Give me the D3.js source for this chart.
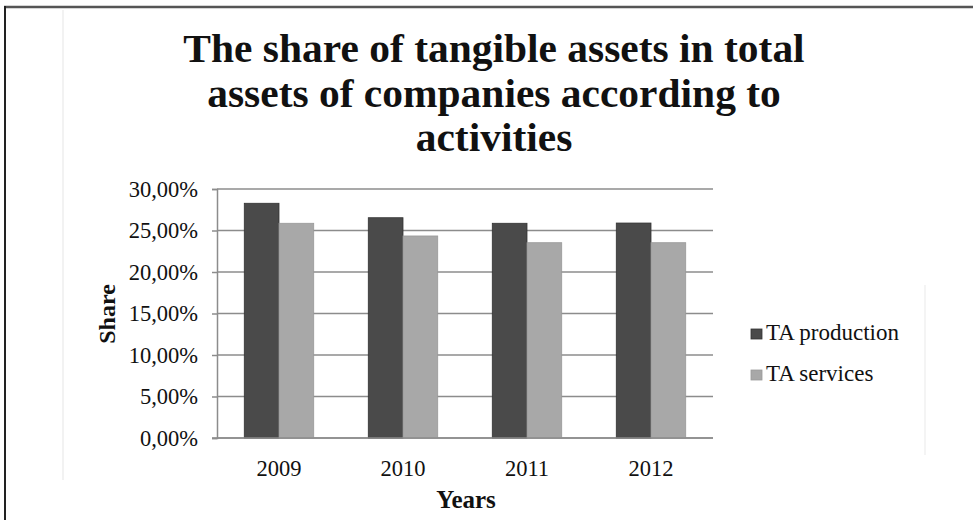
<!DOCTYPE html>
<html>
<head>
<meta charset="utf-8">
<script src="https://cdn.jsdelivr.net/npm/d3@7"></script>
<style>
  html, body { margin: 0; padding: 0; background: #fff; }
  svg { display: block; }
  text { font-family: "Liberation Serif", "Times New Roman", serif; fill: #111; }
</style>
</head>
<body>
<svg id="chart" width="973" height="520"></svg>
<script>
// ---- data ----
const years = ["2009", "2010", "2011", "2012"];
const seriesNames = ["TA production", "TA services"];
const taProduction = [0.2828, 0.2654, 0.2587, 0.2590];
const taServices = [0.2587, 0.2434, 0.2353, 0.2353];
const yTicks = [0, 0.05, 0.10, 0.15, 0.20, 0.25, 0.30];
const titleLines = ["The share of tangible assets in total", "assets of companies according to", "activities"];
const colors = ["#4a4a4a", "#a8a8a8"];

const svg = d3.select("#chart");

// frame
svg.append("rect").attr("x", 0).attr("y", 0).attr("width", 973).attr("height", 520).attr("fill", "#fff");
svg.append("line").attr("x1", 4).attr("x2", 973).attr("y1", 7).attr("y2", 7)
  .attr("stroke", "#555").attr("stroke-width", 2.5);
svg.append("line").attr("x1", 5).attr("x2", 5).attr("y1", 6).attr("y2", 520)
  .attr("stroke", "#222").attr("stroke-width", 2);
// faint chart-area edges
svg.append("line").attr("x1", 63).attr("x2", 63).attr("y1", 10).attr("y2", 480)
  .attr("stroke", "#eeeeee").attr("stroke-width", 1.5);
svg.append("line").attr("x1", 925).attr("x2", 925).attr("y1", 285).attr("y2", 455)
  .attr("stroke", "#f0f0f0").attr("stroke-width", 1.5);

// title
const titleBase = [62, 107, 151];
titleLines.forEach((t, i) => {
  svg.append("text")
    .attr("transform", `translate(494,${titleBase[i]}) scale(1.037,1)`)
    .attr("text-anchor", "middle")
    .attr("font-size", 40)
    .attr("font-weight", "bold")
    .text(t);
});

// scales
const plot = { left: 217, right: 713, top: 189, bottom: 438 };
const x0 = d3.scaleBand().domain(years).range([plot.left, plot.right])
  .paddingInner(0.44).paddingOuter(0.22);
const x1 = d3.scaleBand().domain(seriesNames).range([0, x0.bandwidth()]);
const y = d3.scaleLinear().domain([0, 0.30]).range([plot.bottom, plot.top]);

const locale = d3.formatLocale({ decimal: ",", thousands: ".", grouping: [3], currency: ["", ""] });
const fmt = locale.format(".2%");

// gridlines
svg.append("g").selectAll("line").data(yTicks).join("line")
  .attr("x1", plot.left).attr("x2", plot.right)
  .attr("y1", d => y(d)).attr("y2", d => y(d))
  .attr("stroke", "#8c8c8c").attr("stroke-width", 1.5);

// y axis
const yAxis = svg.append("g").attr("transform", `translate(${plot.left},0)`)
  .call(d3.axisLeft(y).tickValues(yTicks).tickFormat(fmt).tickSize(5).tickPadding(14));
yAxis.select(".domain").attr("stroke", "#8c8c8c").attr("stroke-width", 1.5);
yAxis.selectAll(".tick line").attr("stroke", "#8c8c8c").attr("stroke-width", 1.5);
yAxis.selectAll(".tick text").attr("font-size", 22.5)
  .attr("font-family", "'Liberation Serif', 'Times New Roman', serif").attr("fill", "#111");

// bars
const rows = years.map((yr, i) => ({ year: yr, values: [taProduction[i], taServices[i]] }));
svg.append("g").selectAll("g").data(rows).join("g")
  .attr("transform", d => `translate(${x0(d.year)},0)`)
  .selectAll("rect").data(d => d.values.map((v, j) => ({ key: seriesNames[j], v, j })))
  .join("rect")
  .attr("x", d => x1(d.key))
  .attr("y", d => y(d.v))
  .attr("width", x1.bandwidth())
  .attr("height", d => y(0) - y(d.v))
  .attr("fill", d => colors[d.j])
  .attr("stroke", d => d.j === 0 ? "#333" : "#999")
  .attr("stroke-width", 0.8);

// x axis
const xAxis = svg.append("g").attr("transform", `translate(0,${plot.bottom})`)
  .call(d3.axisBottom(x0).tickSize(0).tickPadding(22));
xAxis.select(".domain").attr("stroke", "#8c8c8c").attr("stroke-width", 1.5)
  .attr("d", `M${plot.left - 5},0H${plot.right}`);
xAxis.selectAll(".tick text").attr("font-size", 22.5)
  .attr("font-family", "'Liberation Serif', 'Times New Roman', serif").attr("fill", "#111");

// axis titles
svg.append("text")
  .attr("transform", "translate(115,314) rotate(-90)")
  .attr("text-anchor", "middle")
  .attr("font-size", 24).attr("font-weight", "bold")
  .text("Share");
svg.append("text")
  .attr("x", 466).attr("y", 508)
  .attr("text-anchor", "middle")
  .attr("font-size", 25).attr("font-weight", "bold")
  .text("Years");

// legend
const legend = svg.append("g").selectAll("g").data(seriesNames).join("g")
  .attr("transform", (d, i) => `translate(751,${329 + i * 41})`);
legend.append("rect").attr("width", 11).attr("height", 10)
  .attr("fill", (d, i) => colors[i])
  .attr("stroke", (d, i) => i === 0 ? "#333" : "#999").attr("stroke-width", 0.8);
legend.append("text").attr("x", 15).attr("y", 11)
  .attr("font-size", 23).text(d => d);
</script>
</body>
</html>
